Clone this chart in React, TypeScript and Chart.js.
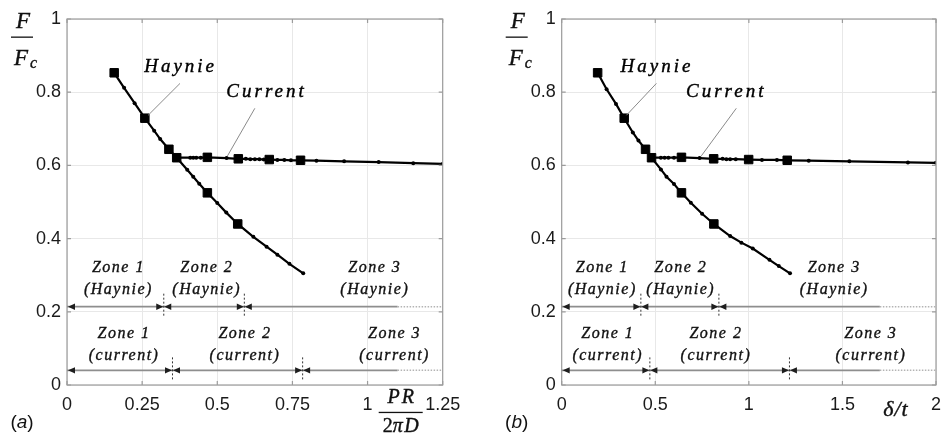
import React, { useEffect, useRef } from "react";
import { Chart, registerables } from "chart.js";

Chart.register(...registerables);

// ---------------- Panel (a): x = PR / (2πD) ----------------
const haynieLineXA = [0.157, 0.19, 0.225, 0.259, 0.29, 0.31, 0.339, 0.365, 0.4, 0.42, 0.44, 0.467, 0.5, 0.53, 0.568, 0.62, 0.664, 0.7, 0.74, 0.786];
const haynieLineYA = [0.853, 0.812, 0.77, 0.729, 0.695, 0.672, 0.644, 0.621, 0.588, 0.569, 0.55, 0.525, 0.497, 0.471, 0.44, 0.405, 0.378, 0.356, 0.331, 0.305];
const haynieMarkXA = [0.157, 0.259, 0.339, 0.365, 0.467, 0.568];
const haynieMarkYA = [0.853, 0.729, 0.644, 0.621, 0.525, 0.44];
const currentLineXA = [0.365, 0.41, 0.42, 0.43, 0.445, 0.467, 0.531, 0.57, 0.595, 0.61, 0.625, 0.64, 0.655, 0.673, 0.7, 0.723, 0.745, 0.777, 0.83, 0.922, 1.037, 1.152, 1.25];
const currentLineYA = [0.621, 0.621, 0.621, 0.621, 0.621, 0.622, 0.62, 0.618, 0.618, 0.617, 0.617, 0.617, 0.616, 0.616, 0.615, 0.615, 0.614, 0.614, 0.613, 0.611, 0.609, 0.606, 0.604];
const currentMarkXA = [0.467, 0.57, 0.673, 0.777];
const currentMarkYA = [0.622, 0.618, 0.616, 0.614];
const haynieZoneBoundsA = [0.322, 0.59];
const currentZoneBoundsA = [0.351, 0.784];
const zoneSolidEndA = 1.1;
const haynieZoneLabelXA = [0.171, 0.465, 1.024];
const currentZoneLabelXA = [0.19, 0.592, 1.09];
const curveLabelPosA = { haynie: [0.378, 0.87], current: [0.664, 0.8] };
const leaderHaynieA = [0.376, 0.824, 0.27, 0.737];
const leaderCurrentA = [0.625, 0.756, 0.534, 0.626];
const xTicksA = { max: 1.25, step: 0.25 };

// ---------------- Panel (b): x = δ / t ----------------
const haynieLineXB = [0.192, 0.24, 0.29, 0.334, 0.38, 0.41, 0.448, 0.48, 0.53, 0.56, 0.6, 0.64, 0.69, 0.75, 0.813, 0.9, 0.96, 1.021, 1.11, 1.16, 1.22];
const haynieLineYB = [0.853, 0.808, 0.768, 0.729, 0.69, 0.668, 0.644, 0.621, 0.589, 0.569, 0.549, 0.525, 0.498, 0.468, 0.44, 0.407, 0.389, 0.373, 0.342, 0.325, 0.305];
const haynieMarkXB = [0.192, 0.334, 0.448, 0.48, 0.64, 0.813];
const haynieMarkYB = [0.853, 0.729, 0.644, 0.621, 0.525, 0.44];
const currentLineXB = [0.48, 0.53, 0.55, 0.57, 0.6, 0.64, 0.737, 0.812, 0.86, 0.88, 0.9, 0.93, 0.999, 1.07, 1.15, 1.205, 1.32, 1.537, 1.85, 2.0];
const currentLineYB = [0.621, 0.621, 0.621, 0.621, 0.621, 0.622, 0.62, 0.618, 0.618, 0.617, 0.617, 0.617, 0.616, 0.615, 0.615, 0.614, 0.613, 0.611, 0.608, 0.607];
const currentMarkXB = [0.64, 0.812, 0.999, 1.205];
const currentMarkYB = [0.622, 0.618, 0.616, 0.614];
const haynieZoneBoundsB = [0.423, 0.84];
const currentZoneBoundsB = [0.471, 1.217];
const zoneSolidEndB = 1.7;
const haynieZoneLabelXB = [0.217, 0.636, 1.456];
const currentZoneLabelXB = [0.246, 0.824, 1.652];
const curveLabelPosB = { haynie: [0.509, 0.87], current: [0.879, 0.8] };
const leaderHaynieB = [0.506, 0.824, 0.346, 0.737];
const leaderCurrentB = [0.933, 0.756, 0.746, 0.626];
const xTicksB = { max: 2, step: 0.5 };

// ---------------- shared ----------------
const zoneNames = ["Zone 1", "Zone 2", "Zone 3"];
const haynieZoneLevel = 0.214;
const currentZoneLevel = 0.04;
const haynieZoneTextY = [0.32, 0.26];
const currentZoneTextY = [0.141, 0.079];
const yTicks = { max: 1, step: 0.2 };

const SERIF = '"Liberation Serif", "Times New Roman", serif';
const SANS = '"Liberation Sans", Arial, Helvetica, sans-serif';

const pts = (xs: number[], ys: number[]) => xs.map((x, i) => ({ x, y: ys[i] }));
const fmtTick = (v: any) => String(+Number(v).toFixed(4));

type PanelCfg = {
  tag: string;
  xTitle: "frac" | "delta";
  width: number;
  yAxisWidth: number;
  rightPad: number;
  xMax: number;
  xStep: number;
  haynieLine: { x: number; y: number }[];
  haynieMarks: { x: number; y: number }[];
  currentLine: { x: number; y: number }[];
  currentMarks: { x: number; y: number }[];
  hBounds: number[];
  cBounds: number[];
  solidEnd: number;
  hLabelX: number[];
  cLabelX: number[];
  curveLabels: { haynie: number[]; current: number[] };
  leaderH: number[];
  leaderC: number[];
};

const H = 433;

function drawTri(ctx: CanvasRenderingContext2D, tipX: number, y: number, dir: number) {
  const len = 7;
  const hw = 3.2;
  ctx.beginPath();
  ctx.moveTo(tipX, y);
  ctx.lineTo(tipX - dir * len, y - hw);
  ctx.lineTo(tipX - dir * len, y + hw);
  ctx.closePath();
  ctx.fill();
}

// text with a faint outline so the thin italic serif reads as dark as the original
function boldText(ctx: CanvasRenderingContext2D, s: string, x: number, y: number, w = 0.35) {
  ctx.fillText(s, x, y);
  ctx.lineWidth = w;
  ctx.strokeStyle = ctx.fillStyle as string;
  ctx.strokeText(s, x, y);
}

function makePlugin(cfg: PanelCfg) {
  return {
    id: "decor" + cfg.tag,
    afterDraw(chart: any) {
      const ctx: CanvasRenderingContext2D = chart.ctx;
      const { left, right, top, bottom } = chart.chartArea;
      const xs = chart.scales.x;
      const ys = chart.scales.y;
      const px = (v: number) => xs.getPixelForValue(v);
      const py = (v: number) => ys.getPixelForValue(v);
      ctx.save();

      // box + inward ticks
      ctx.strokeStyle = "#9c9c9c";
      ctx.lineWidth = 1.2;
      ctx.strokeRect(left, top, right - left, bottom - top);
      ctx.beginPath();
      xs.ticks.forEach((t: any) => {
        const p = px(t.value);
        ctx.moveTo(p, bottom);
        ctx.lineTo(p, bottom - 4);
        ctx.moveTo(p, top);
        ctx.lineTo(p, top + 4);
      });
      ys.ticks.forEach((t: any) => {
        const p = py(t.value);
        ctx.moveTo(left, p);
        ctx.lineTo(left + 4, p);
        ctx.moveTo(right, p);
        ctx.lineTo(right - 4, p);
      });
      ctx.stroke();

      // zone lines
      const drawZone = (level: number, bounds: number[]) => {
        const yy = py(level);
        ctx.setLineDash([]);
        ctx.strokeStyle = "#8e8e8e";
        ctx.lineWidth = 1.8;
        ctx.beginPath();
        ctx.moveTo(px(0), yy);
        ctx.lineTo(px(cfg.solidEnd), yy);
        ctx.stroke();
        ctx.strokeStyle = "#b4b4b4";
        ctx.lineWidth = 1.5;
        ctx.setLineDash([1.5, 1.5]);
        ctx.beginPath();
        ctx.moveTo(px(cfg.solidEnd), yy);
        ctx.lineTo(px(cfg.xMax), yy);
        ctx.stroke();
        ctx.fillStyle = "#1e1e1e";
        ctx.setLineDash([]);
        drawTri(ctx, px(0) + 1, yy, -1);
        bounds.forEach((b) => {
          const bx = px(b);
          ctx.strokeStyle = "#333";
          ctx.lineWidth = 1;
          ctx.setLineDash([2, 2]);
          ctx.beginPath();
          ctx.moveTo(bx, yy - 13);
          ctx.lineTo(bx, yy + 11);
          ctx.stroke();
          ctx.setLineDash([]);
          drawTri(ctx, bx - 0.5, yy, 1);
          drawTri(ctx, bx + 0.5, yy, -1);
        });
      };
      drawZone(haynieZoneLevel, cfg.hBounds);
      drawZone(currentZoneLevel, cfg.cBounds);

      // zone texts
      const setLS = (s: string) => {
        (ctx as any).letterSpacing = s;
      };
      ctx.fillStyle = "#111";
      ctx.textAlign = "center";
      ctx.textBaseline = "middle";
      ctx.font = `italic 16px ${SERIF}`;
      setLS("1.5px");
      zoneNames.forEach((name, i) => {
        boldText(ctx, name, px(cfg.hLabelX[i]), py(haynieZoneTextY[0]));
        boldText(ctx, "(Haynie)", px(cfg.hLabelX[i]), py(haynieZoneTextY[1]));
        boldText(ctx, name, px(cfg.cLabelX[i]), py(currentZoneTextY[0]));
        boldText(ctx, "(current)", px(cfg.cLabelX[i]), py(currentZoneTextY[1]));
      });

      // curve labels + leaders
      ctx.strokeStyle = "#8a8a8a";
      ctx.lineWidth = 1;
      ctx.beginPath();
      ctx.moveTo(px(cfg.leaderH[0]), py(cfg.leaderH[1]));
      ctx.lineTo(px(cfg.leaderH[2]), py(cfg.leaderH[3]));
      ctx.moveTo(px(cfg.leaderC[0]), py(cfg.leaderC[1]));
      ctx.lineTo(px(cfg.leaderC[2]), py(cfg.leaderC[3]));
      ctx.stroke();
      ctx.fillStyle = "#000";
      ctx.font = `italic 19px ${SERIF}`;
      setLS("3px");
      boldText(ctx, "Haynie", px(cfg.curveLabels.haynie[0]), py(cfg.curveLabels.haynie[1]), 0.4);
      boldText(ctx, "Current", px(cfg.curveLabels.current[0]), py(cfg.curveLabels.current[1]), 0.4);
      setLS("0px");

      // y title F / F_c
      ctx.fillStyle = "#111";
      ctx.textBaseline = "alphabetic";
      const cx = left - 45;
      ctx.font = `italic 23px ${SERIF}`;
      ctx.textAlign = "center";
      boldText(ctx, "F", cx + 1, 28, 0.4);
      ctx.fillRect(cx - 11, 36.5, 22, 1.3);
      boldText(ctx, "F", cx - 1, 65, 0.4);
      ctx.font = `italic 16px ${SERIF}`;
      ctx.textAlign = "left";
      boldText(ctx, "c", cx + 8, 68);

      // x title
      if (cfg.xTitle === "frac") {
        const tx = right - 42;
        ctx.textAlign = "center";
        ctx.font = `italic 20px ${SERIF}`;
        setLS("2px");
        boldText(ctx, "PR", tx + 1, 403, 0.4);
        setLS("0px");
        ctx.fillRect(tx - 22, 411.8, 44, 1.3);
        ctx.font = `20px ${SERIF}`;
        const w2 = ctx.measureText("2").width;
        ctx.font = `italic 20px ${SERIF}`;
        const wpd = ctx.measureText("πD").width + 1.5;
        const sx = tx - (w2 + wpd) / 2;
        ctx.textAlign = "left";
        ctx.font = `20px ${SERIF}`;
        boldText(ctx, "2", sx, 432, 0.4);
        ctx.font = `italic 20px ${SERIF}`;
        setLS("1.5px");
        boldText(ctx, "πD", sx + w2, 432, 0.4);
        setLS("0px");
      } else {
        ctx.textAlign = "center";
        ctx.font = `italic 22px ${SERIF}`;
        setLS("1px");
        boldText(ctx, "δ/t", right - 40, 416, 0.4);
        setLS("0px");
      }

      // panel tag (a)/(b)
      ctx.font = `19px ${SANS}`;
      const wo = ctx.measureText("(").width;
      const wc = ctx.measureText(")").width;
      ctx.font = `italic 19px ${SANS}`;
      const wt = ctx.measureText(cfg.tag).width;
      const sx = left - 45 - (wo + wt + wc) / 2;
      ctx.textAlign = "left";
      ctx.font = `19px ${SANS}`;
      ctx.fillText("(", sx, 428);
      ctx.font = `italic 19px ${SANS}`;
      ctx.fillText(cfg.tag, sx + wo, 428);
      ctx.font = `19px ${SANS}`;
      ctx.fillText(")", sx + wo + wt, 428);

      ctx.restore();
    },
  };
}

function Panel({ cfg, x }: { cfg: PanelCfg; x: number }) {
  const ref = useRef<HTMLCanvasElement | null>(null);
  useEffect(() => {
    if (!ref.current) return;
    const tickFont = { family: SANS, size: 18 };
    const lineDs = (data: any) => ({
      data,
      showLine: true,
      borderColor: "#000",
      borderWidth: 2.2,
      pointRadius: 2,
      pointBackgroundColor: "#000",
      pointBorderWidth: 0,
      pointStyle: "circle",
      tension: 0,
    });
    const markDs = (data: any) => ({
      data,
      showLine: false,
      pointStyle: "rect",
      pointRadius: 6,
      pointBackgroundColor: "#000",
      pointBorderColor: "#000",
      pointBorderWidth: 1,
    });
    const chart = new Chart(ref.current, {
      type: "scatter",
      data: {
        datasets: [
          lineDs(cfg.haynieLine),
          lineDs(cfg.currentLine),
          markDs(cfg.haynieMarks),
          markDs(cfg.currentMarks),
        ] as any,
      },
      options: {
        animation: false,
        responsive: false,
        maintainAspectRatio: false,
        events: [],
        layout: { padding: { top: 19, right: cfg.rightPad, left: 0, bottom: 0 } },
        plugins: { legend: { display: false }, tooltip: { enabled: false } },
        scales: {
          x: {
            type: "linear",
            min: 0,
            max: cfg.xMax,
            ticks: { stepSize: cfg.xStep, font: tickFont, color: "#1a1a1a", padding: 9, maxRotation: 0, autoSkip: false, callback: fmtTick },
            grid: { color: "#e8e8e8", drawTicks: false, lineWidth: 1 },
            border: { display: false },
            afterFit: (s: any) => {
              s.height = 48;
              s.paddingLeft = 0;
              s.paddingRight = 0;
            },
          },
          y: {
            type: "linear",
            min: 0,
            max: yTicks.max,
            ticks: { stepSize: yTicks.step, font: tickFont, color: "#1a1a1a", padding: 6, callback: fmtTick },
            grid: { color: "#e8e8e8", drawTicks: false, lineWidth: 1 },
            border: { display: false },
            afterFit: (s: any) => {
              s.width = cfg.yAxisWidth;
              s.paddingTop = 0;
              s.paddingBottom = 0;
            },
          },
        },
      } as any,
      plugins: [makePlugin(cfg)],
    });
    return () => chart.destroy();
  }, [cfg]);
  return (
    <canvas
      ref={ref}
      width={cfg.width}
      height={H}
      style={{ position: "absolute", left: x, top: 0, width: cfg.width, height: H }}
    />
  );
}

const cfgA: PanelCfg = {
  tag: "a",
  xTitle: "frac",
  width: 470,
  yAxisWidth: 67,
  rightPad: 27.3,
  xMax: xTicksA.max,
  xStep: xTicksA.step,
  haynieLine: pts(haynieLineXA, haynieLineYA),
  haynieMarks: pts(haynieMarkXA, haynieMarkYA),
  currentLine: pts(currentLineXA, currentLineYA),
  currentMarks: pts(currentMarkXA, currentMarkYA),
  hBounds: haynieZoneBoundsA,
  cBounds: currentZoneBoundsA,
  solidEnd: zoneSolidEndA,
  hLabelX: haynieZoneLabelXA,
  cLabelX: currentZoneLabelXA,
  curveLabels: curveLabelPosA,
  leaderH: leaderHaynieA,
  leaderC: leaderCurrentA,
};

const cfgB: PanelCfg = {
  tag: "b",
  xTitle: "delta",
  width: 473,
  yAxisWidth: 91.7,
  rightPad: 6.3,
  xMax: xTicksB.max,
  xStep: xTicksB.step,
  haynieLine: pts(haynieLineXB, haynieLineYB),
  haynieMarks: pts(haynieMarkXB, haynieMarkYB),
  currentLine: pts(currentLineXB, currentLineYB),
  currentMarks: pts(currentMarkXB, currentMarkYB),
  hBounds: haynieZoneBoundsB,
  cBounds: currentZoneBoundsB,
  solidEnd: zoneSolidEndB,
  hLabelX: haynieZoneLabelXB,
  cLabelX: currentZoneLabelXB,
  curveLabels: curveLabelPosB,
  leaderH: leaderHaynieB,
  leaderC: leaderCurrentB,
};

export default function App() {
  return (
    <div style={{ position: "fixed", left: 0, top: 0, width: 943, height: H, background: "#fff", overflow: "hidden" }}>
      <Panel cfg={cfgA} x={0} />
      <Panel cfg={cfgB} x={470} />
    </div>
  );
}
